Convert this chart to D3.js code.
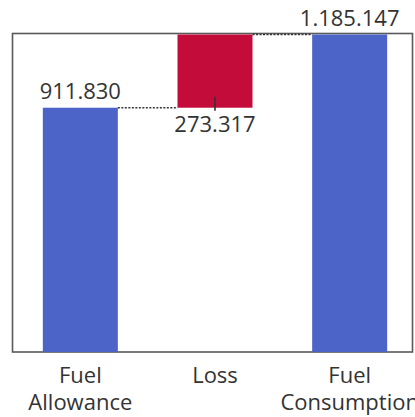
<!DOCTYPE html>
<html>
<head>
<meta charset="utf-8">
<script src="https://cdn.jsdelivr.net/npm/d3@7"></script>
<style>
  html, body { margin: 0; padding: 0; background: #fff; }
  svg { display: block; }
  text { font-family: "Open Sans", "Noto Sans", sans-serif; fill: #333; }
</style>
</head>
<body>
<script>
// Waterfall: allowance + loss = consumption
const categories = ["Fuel Allowance", "Loss", "Fuel Consumption"];
const categoryLines = [["Fuel", "Allowance"], ["Loss"], ["Fuel", "Consumption"]];
const kinds = ["total", "delta", "total"];
const values = [911830, 273317, 1185147];

const W = 415, H = 417;
const frame = { left: 12.5, top: 33.5, right: 412.5, bottom: 352 };

const svg = d3.select("body").append("svg").attr("width", W).attr("height", H);

const x = d3.scaleBand()
  .domain(categories)
  .range([13, 417])
  .paddingInner(0.443)
  .paddingOuter(0.2215);

const y = d3.scaleLinear()
  .domain([0, values[2]])
  .range([frame.bottom, 34.5]);

// running start/end of each step
let running = 0;
const steps = categories.map((c, i) => {
  let y0, y1;
  if (kinds[i] === "total") { y0 = 0; y1 = values[i]; running = values[i]; }
  else { y0 = running; y1 = running + values[i]; running = y1; }
  return { cat: c, kind: kinds[i], value: values[i], y0, y1, lines: categoryLines[i] };
});

const fmt = d3.formatLocale({ decimal: ",", thousands: ".", grouping: [3], currency: ["", ""] }).format(",");

// plot frame
svg.append("rect")
  .attr("x", frame.left).attr("y", frame.top)
  .attr("width", frame.right - frame.left).attr("height", frame.bottom - frame.top)
  .attr("fill", "none").attr("stroke", "#595959").attr("stroke-width", 1.6);

// bars
svg.selectAll("rect.bar").data(steps).join("rect")
  .attr("class", "bar")
  .attr("x", d => x(d.cat))
  .attr("width", x.bandwidth())
  .attr("y", d => y(d.y1))
  .attr("height", d => y(d.y0) - y(d.y1))
  .attr("fill", d => d.kind === "total" ? "#4c63c8" : "#c40c3a");

// dotted connectors between consecutive bars
for (let i = 0; i < steps.length - 1; i++) {
  const level = steps[i].y1;
  svg.append("line")
    .attr("x1", x(steps[i].cat) + x.bandwidth())
    .attr("x2", x(steps[i + 1].cat))
    .attr("y1", y(level)).attr("y2", y(level))
    .attr("stroke", "#333").attr("stroke-width", 1.5)
    .attr("stroke-dasharray", "2,1.5");
}

// value labels
steps.forEach(d => {
  const cx = x(d.cat) + x.bandwidth() / 2;
  if (d.kind === "total") {
    svg.append("text")
      .attr("x", cx).attr("y", y(d.y1) - 8.5)
      .attr("text-anchor", "middle").attr("font-size", 22)
      .text(fmt(d.value));
  } else {
    svg.append("line")
      .attr("x1", cx).attr("x2", cx)
      .attr("y1", y(d.y0) - 11).attr("y2", y(d.y0) + 3)
      .attr("stroke", "#333").attr("stroke-width", 1.6);
    svg.append("text")
      .attr("x", cx).attr("y", y(d.y0) + 24.5)
      .attr("text-anchor", "middle").attr("font-size", 22)
      .text(fmt(d.value));
  }
});

// category labels
steps.forEach(d => {
  const cx = x(d.cat) + x.bandwidth() / 2;
  const t = svg.append("text")
    .attr("x", cx).attr("y", 383)
    .attr("text-anchor", "middle").attr("font-size", 22);
  d.lines.forEach((ln, j) => {
    t.append("tspan").attr("x", cx).attr("dy", j === 0 ? 0 : 27).text(ln);
  });
});
</script>
</body>
</html>
